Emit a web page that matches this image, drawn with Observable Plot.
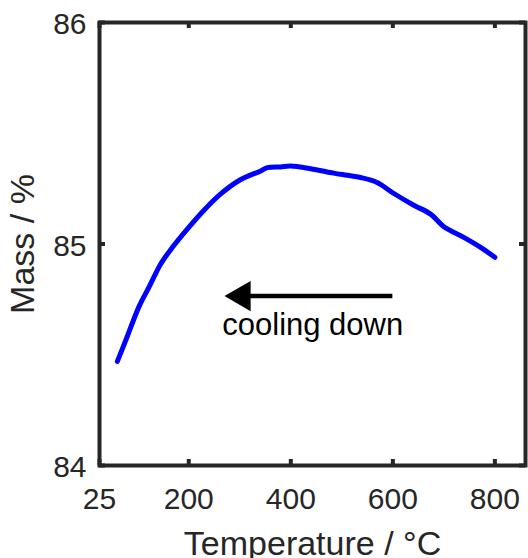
<!DOCTYPE html>
<html>
<head>
<meta charset="utf-8">
<script src="https://cdn.jsdelivr.net/npm/d3@7"></script>
<script src="https://cdn.jsdelivr.net/npm/@observablehq/plot@0.6"></script>
<style>
  body { margin: 0; background: #fff; }
  #chart svg { max-width: none; }
</style>
</head>
<body>
<div id="chart"></div>
<script>
// ---- data ----
const temperature = [60, 79, 102, 122, 145, 168, 200, 233, 262, 301, 341, 354, 380, 399, 439, 484, 511, 537, 569, 602, 641, 674, 700, 739, 772, 800];
const mass = [84.47, 84.58, 84.715, 84.805, 84.91, 84.985, 85.075, 85.16, 85.225, 85.29, 85.33, 85.345, 85.348, 85.352, 85.34, 85.32, 85.31, 85.30, 85.278, 85.228, 85.175, 85.135, 85.078, 85.03, 84.985, 84.94];

const xTicks = [25, 200, 400, 600, 800];
const yTicks = [84, 85, 86];
const xDomain = [25, 860];
const yDomain = [84, 86];

const xLabel = "Temperature / °C";
const yLabel = "Mass / %";

const annotationText = ["cooling down"];
const annotationTemp = [443];
const annotationMass = [84.587];

const arrowFromTemp = [600];
const arrowToTemp = [270];
const arrowMass = [84.765];

// ---- build ----
const series = temperature.map((t, i) => ({t, m: mass[i]}));
const note = annotationText.map((s, i) => ({s, t: annotationTemp[i], m: annotationMass[i]}));
const arrows = arrowFromTemp.map((f, i) => ({from: f, to: arrowToTemp[i], m: arrowMass[i]}));

const W = 528, H = 558, ML = 99, MR = 3, MT = 22, MB = 93;
const innerW = W - ML - MR, innerH = H - MT - MB;
const tickLen = 6;
const axisColor = "#262626";
const font = "'Liberation Sans', Arial, Helvetica, sans-serif";

const chart = Plot.plot({
  width: W,
  height: H,
  marginLeft: ML,
  marginRight: MR,
  marginTop: MT,
  marginBottom: MB,
  style: {fontFamily: font, background: "white", overflow: "visible"},
  x: {domain: xDomain, axis: null},
  y: {domain: yDomain, axis: null},
  marks: [
    // data curve
    Plot.line(series, {x: "t", y: "m", curve: "catmull-rom", stroke: "#0000ff", strokeWidth: 5, strokeLinecap: "round", strokeLinejoin: "round"}),
    // arrow shaft + head
    Plot.ruleY(arrows, {y: "m", x1: "to", x2: "from", stroke: "black", strokeWidth: 4.5, insetLeft: 20}),
    Plot.dot(arrows, {x: "to", y: "m", symbol: "triangle", r: 11.2, rotate: -90, fill: "black", stroke: null, dx: 17.4}),
    // annotation
    Plot.text(note, {x: "t", y: "m", text: "s", fontSize: 31, fill: "black", textAnchor: "middle", lineAnchor: "bottom", fontFamily: font}),
    // inward ticks
    Plot.tickX(xTicks, {x: d => d, insetTop: innerH - tickLen, stroke: axisColor, strokeWidth: 4}),
    Plot.tickX(xTicks, {x: d => d, insetBottom: innerH - tickLen, stroke: axisColor, strokeWidth: 4}),
    Plot.tickY(yTicks, {y: d => d, insetRight: innerW - tickLen, stroke: axisColor, strokeWidth: 4}),
    Plot.tickY(yTicks, {y: d => d, insetLeft: innerW - tickLen, stroke: axisColor, strokeWidth: 4}),
    // tick labels
    Plot.text(xTicks, {x: d => d, text: d => String(d), frameAnchor: "bottom", lineAnchor: "top", dy: 22, fontSize: 30, fill: axisColor, fontFamily: font}),
    Plot.text(yTicks, {y: d => d, text: d => String(d), frameAnchor: "left", textAnchor: "end", lineAnchor: "middle", dx: -13, dy: 2, fontSize: 30, fill: axisColor, fontFamily: font}),
    // axis titles
    Plot.text([xLabel], {text: d => d, frameAnchor: "bottom", textAnchor: "middle", lineAnchor: "bottom", dy: 89, fontSize: 34, fill: axisColor, fontFamily: font}),
    Plot.text([yLabel], {text: d => d, frameAnchor: "left", textAnchor: "middle", rotate: -90, lineAnchor: "middle", dx: -76, fontSize: 34, fill: axisColor, fontFamily: font}),
    // box
    Plot.frame({stroke: axisColor, strokeWidth: 4})
  ]
});

document.getElementById("chart").appendChild(chart);
</script>
</body>
</html>
